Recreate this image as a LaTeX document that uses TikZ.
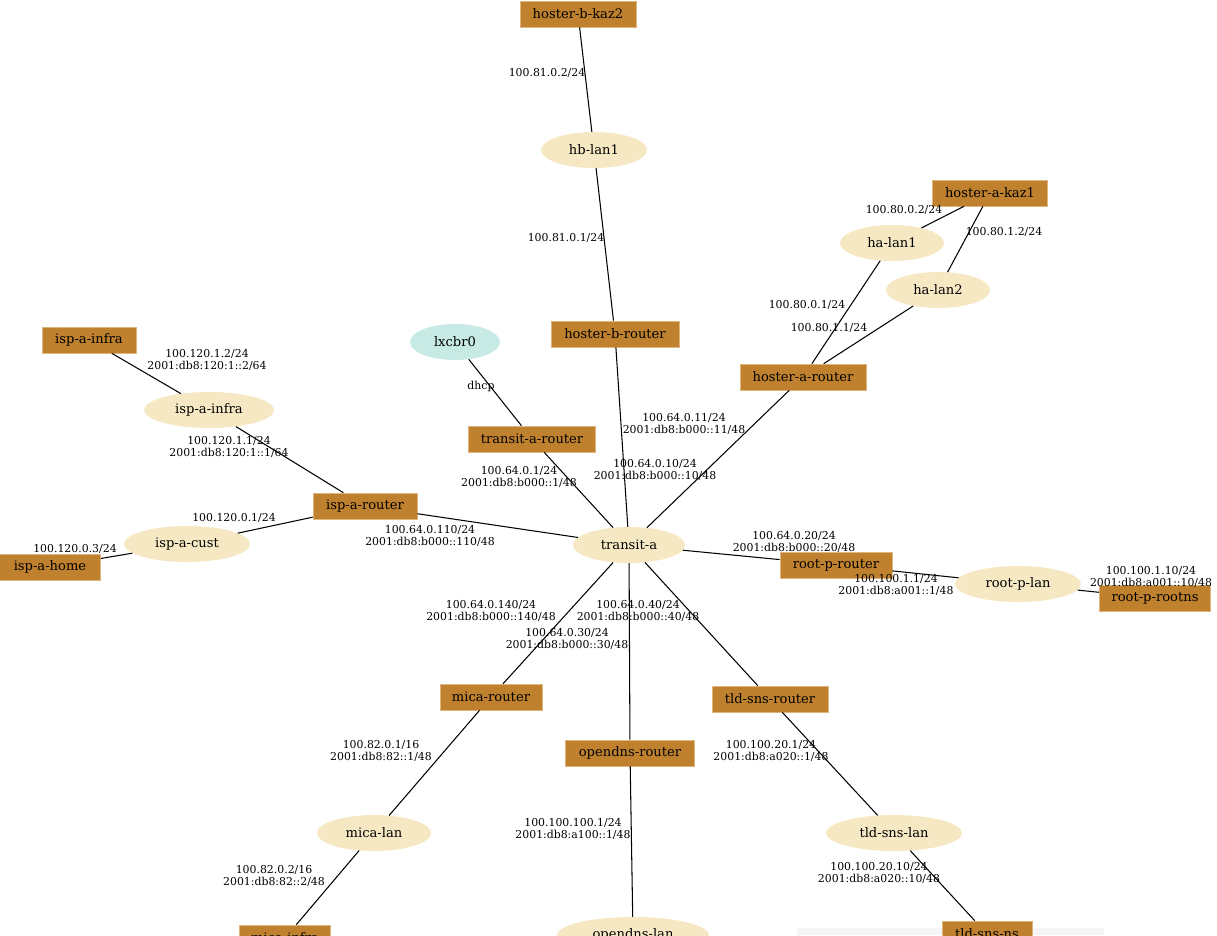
\documentclass[tikz,border=0pt]{standalone}
\usepackage{fontspec}
\setmainfont{DejaVu Serif}
\usetikzlibrary{shapes.geometric}
\definecolor{boxc}{HTML}{BF812D}
\definecolor{boxb}{HTML}{DDB67F}
\definecolor{lanc}{HTML}{F6E8C3}
\definecolor{brc}{HTML}{C7EAE5}
\definecolor{shadowc}{HTML}{F5F5F5}
\begin{document}
\begin{tikzpicture}[x=1pt,y=-1pt,
  hostbox/.style={rectangle, fill=boxc, draw=boxb, line width=0.6pt, minimum height=26pt, inner sep=0pt, font=\fontsize{13.1}{15}\selectfont},
  lan/.style={ellipse, fill=lanc, minimum height=36pt, inner sep=0pt, font=\fontsize{13.1}{15}\selectfont},
  bridge/.style={lan, fill=brc},
  lbl/.style={font=\fontsize{10.9}{12}\selectfont, align=center, inner sep=0pt},
  link/.style={line width=1.05pt, black}]
\useasboundingbox (0,0) rectangle (1217,935);
\clip (0,0) rectangle (1217,935);
\fill[shadowc] (797,928) rectangle (1104,935);
% nodes
\node[hostbox, minimum width=116pt] (hbk2) at (578,14) {hoster-b-kaz2};
\node[lan, minimum width=106pt] (hblan1) at (594,150) {hb-lan1};
\node[hostbox, minimum width=128pt] (hbr) at (615,334) {hoster-b-router};
\node[bridge, minimum width=90pt] (lxc) at (455,342) {lxcbr0};
\node[hostbox, minimum width=127pt] (tar) at (532,439) {transit-a-router};
\node[hostbox, minimum width=115pt] (hak1) at (990,193) {hoster-a-kaz1};
\node[lan, minimum width=104pt] (halan1) at (892,243) {ha-lan1};
\node[lan, minimum width=104pt] (halan2) at (938,290) {ha-lan2};
\node[hostbox, minimum width=126pt] (har) at (803,377) {hoster-a-router};
\node[hostbox, minimum width=94pt] (iaibox) at (89,340) {isp-a-infra};
\node[lan, minimum width=130pt] (iailan) at (209,410) {isp-a-infra};
\node[hostbox, minimum width=104pt] (iar) at (365,506) {isp-a-router};
\node[lan, minimum width=126pt] (iacust) at (187,544) {isp-a-cust};
\node[hostbox, minimum width=101pt] (iahome) at (50,567) {isp-a-home};
\node[lan, minimum width=112pt] (ta) at (629,545) {transit-a};
\node[hostbox, minimum width=112pt] (rpr) at (836,565) {root-p-router};
\node[lan, minimum width=126pt] (rplan) at (1018,584) {root-p-lan};
\node[hostbox, minimum width=111pt] (rpns) at (1155,598) {root-p-rootns};
\node[hostbox, minimum width=102pt] (mr) at (491,697) {mica-router};
\node[hostbox, minimum width=129pt] (odr) at (630,753) {opendns-router};
\node[hostbox, minimum width=116pt] (tsr) at (770,699) {tld-sns-router};
\node[lan, minimum width=114pt] (mlan) at (374,833) {mica-lan};
\node[lan, minimum width=136pt] (tslan) at (894,833) {tld-sns-lan};
\node[hostbox, minimum width=91pt] (mi) at (285,938) {mica-infra};
\node[lan, minimum width=152pt] (odlan) at (633,935) {opendns-lan};
\node[hostbox, minimum width=90pt] (tsns) at (987,934) {tld-sns-ns};
% links
\draw[link] (hbk2) -- (hblan1);
\draw[link] (hblan1) -- (hbr);
\draw[link] (lxc) -- (tar);
\draw[link] (tar) -- (ta);
\draw[link] (hbr) -- (ta);
\draw[link] (har) -- (ta);
\draw[link] (hak1) -- (halan1);
\draw[link] (hak1) -- (halan2);
\draw[link] (halan1) -- (har);
\draw[link] (halan2) -- (har);
\draw[link] (iaibox) -- (iailan);
\draw[link] (iailan) -- (iar);
\draw[link] (iar) -- (iacust);
\draw[link] (iacust) -- (iahome);
\draw[link] (iar) -- (ta);
\draw[link] (ta) -- (rpr);
\draw[link] (rpr) -- (rplan);
\draw[link] (rplan) -- (rpns);
\draw[link] (ta) -- (mr);
\draw[link] (ta) -- (odr);
\draw[link] (ta) -- (tsr);
\draw[link] (mr) -- (mlan);
\draw[link] (mlan) -- (mi);
\draw[link] (odr) -- (odlan);
\draw[link] (tsr) -- (tslan);
\draw[link] (tslan) -- (tsns);
% labels
\node[lbl] (l1) at (547,73) {100.81.0.2/24};
\node[lbl] (l2) at (566,238) {100.81.0.1/24};
\node[lbl] (l3) at (481,386) {dhcp};
\node[lbl] (l4) at (519,477) {100.64.0.1/24\\2001:db8:b000::1/48};
\node[lbl] (l5) at (655,470) {100.64.0.10/24\\2001:db8:b000::10/48};
\node[lbl] (l6) at (684,424) {100.64.0.11/24\\2001:db8:b000::11/48};
\node[lbl] (l7) at (904,210) {100.80.0.2/24};
\node[lbl] (l8) at (1004,232) {100.80.1.2/24};
\node[lbl] (l9) at (807,305) {100.80.0.1/24};
\node[lbl] (l10) at (829,328) {100.80.1.1/24};
\node[lbl] (l11) at (207,360) {100.120.1.2/24\\2001:db8:120:1::2/64};
\node[lbl] (l12) at (229,447) {100.120.1.1/24\\2001:db8:120:1::1/64};
\node[lbl] (l13) at (234,518) {100.120.0.1/24};
\node[lbl] (l14) at (75,549) {100.120.0.3/24};
\node[lbl] (l15) at (430,536) {100.64.0.110/24\\2001:db8:b000::110/48};
\node[lbl] (l16) at (794,542) {100.64.0.20/24\\2001:db8:b000::20/48};
\node[lbl] (l17) at (896,585) {100.100.1.1/24\\2001:db8:a001::1/48};
\node[lbl] (l18) at (1151,577) {100.100.1.10/24\\2001:db8:a001::10/48};
\node[lbl] (l19) at (491,611) {100.64.0.140/24\\2001:db8:b000::140/48};
\node[lbl] (l20) at (638,611) {100.64.0.40/24\\2001:db8:b000::40/48};
\node[lbl] (l21) at (567,639) {100.64.0.30/24\\2001:db8:b000::30/48};
\node[lbl] (l22) at (381,751) {100.82.0.1/16\\2001:db8:82::1/48};
\node[lbl] (l23) at (274,876) {100.82.0.2/16\\2001:db8:82::2/48};
\node[lbl] (l24) at (573,829) {100.100.100.1/24\\2001:db8:a100::1/48};
\node[lbl] (l25) at (771,751) {100.100.20.1/24\\2001:db8:a020::1/48};
\node[lbl] (l26) at (879,873) {100.100.20.10/24\\2001:db8:a020::10/48};
\end{tikzpicture}
\end{document}
